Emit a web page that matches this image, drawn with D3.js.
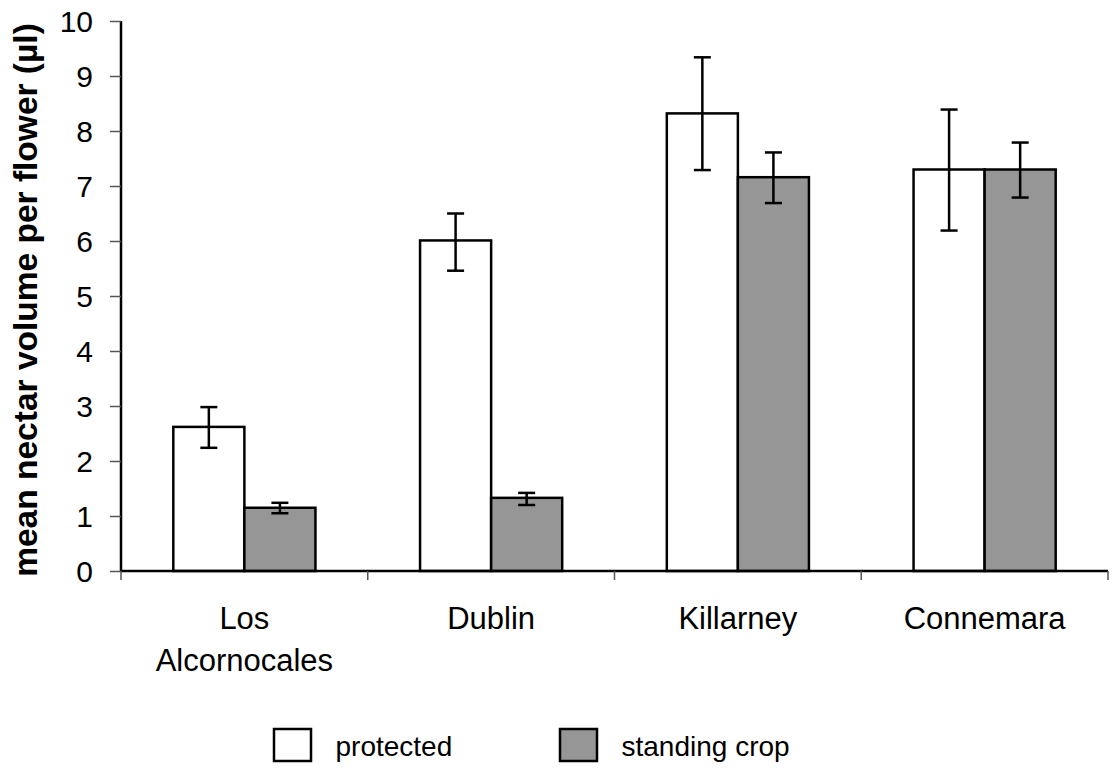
<!DOCTYPE html>
<html><head><meta charset="utf-8">
<script src="https://cdn.jsdelivr.net/npm/d3@7/dist/d3.min.js"></script>
<style>body{margin:0;background:#fff}svg{display:block}text{font-family:"Liberation Sans",Arial,sans-serif}</style>
</head><body>
<svg id="c" width="1112" height="771"></svg>
<script>
const categories = ["Los\nAlcornocales", "Dublin", "Killarney", "Connemara"];
const series = ["protected", "standing crop"];
const protectedMean = [2.62, 6.01, 8.32, 7.30];
const protectedLow  = [2.24, 5.46, 7.29, 6.19];
const protectedHigh = [2.98, 6.50, 9.34, 8.39];
const standingMean = [1.15, 1.33, 7.16, 7.30];
const standingLow  = [1.05, 1.20, 6.69, 6.79];
const standingHigh = [1.24, 1.42, 7.61, 7.79];
const yTicks = [0,1,2,3,4,5,6,7,8,9,10];
const colors = ["#ffffff", "#969696"];

const svg = d3.select("#c");
const x = d3.scaleBand().domain(categories).range([121, 1108]).padding(0);
const y = d3.scaleLinear().domain([0, 10]).range([571, 21]);
const bw = x.bandwidth() * 0.288;
const data = [
  {mean: protectedMean, low: protectedLow, high: protectedHigh},
  {mean: standingMean, low: standingLow, high: standingHigh}
];

// bars
data.forEach((s, si) => {
  categories.forEach((c, i) => {
    const cx = x(c) + x.bandwidth()/2;
    const x0 = si === 0 ? cx - bw : cx;
    svg.append("rect").attr("x", x0).attr("y", y(s.mean[i]))
      .attr("width", bw).attr("height", y(0) - y(s.mean[i]))
      .attr("fill", colors[si]).attr("stroke", "#000").attr("stroke-width", 2.5);
  });
});
// error bars
data.forEach((s, si) => {
  categories.forEach((c, i) => {
    const cx = x(c) + x.bandwidth()/2;
    const ex = si === 0 ? cx - bw/2 : cx + bw/2;
    const g = svg.append("g").attr("stroke", "#000").attr("stroke-width", 2.5);
    g.append("line").attr("x1", ex).attr("x2", ex).attr("y1", y(s.low[i])).attr("y2", y(s.high[i]));
    [s.low[i], s.high[i]].forEach(v => {
      g.append("line").attr("x1", ex - 8.5).attr("x2", ex + 8.5).attr("y1", y(v)).attr("y2", y(v));
    });
  });
});

// y axis
const ya = svg.append("g").attr("transform", "translate(121,0)")
  .call(d3.axisLeft(y).tickValues(yTicks).tickSize(11).tickPadding(17).tickFormat(d3.format("d")));
ya.select(".domain").attr("stroke", "#000").attr("stroke-width", 2.5).attr("d", "M0,21V571");
ya.selectAll(".tick line").attr("stroke", "#555").attr("stroke-width", 1.5);
ya.selectAll(".tick text").attr("font-size", 30).attr("fill", "#000").attr("dy", "0.36em")
  .attr("font-family", '"Liberation Sans",Arial,sans-serif');

// x axis
const xa = svg.append("g").attr("transform", "translate(0,571)");
xa.append("line").attr("x1", 121).attr("x2", 1108).attr("y1", 0).attr("y2", 0)
  .attr("stroke", "#000").attr("stroke-width", 2.5);
const edges = categories.map(c => x(c)).concat([x(categories[categories.length-1]) + x.bandwidth()]);
edges.forEach(e => {
  xa.append("line").attr("x1", e).attr("x2", e).attr("y1", 0).attr("y2", 9)
    .attr("stroke", "#555").attr("stroke-width", 1.5);
});
categories.forEach(c => {
  const t = xa.append("text").attr("x", x(c) + x.bandwidth()/2).attr("y", 58)
    .attr("text-anchor", "middle").attr("font-size", 31).attr("fill", "#000");
  c.split("\n").forEach((line, k) => {
    t.append("tspan").attr("x", x(c) + x.bandwidth()/2).attr("dy", k === 0 ? 0 : 42).text(line);
  });
});

// y title
svg.append("text").attr("transform", "translate(37,300) rotate(-90)")
  .attr("text-anchor", "middle").attr("font-size", 33.5).attr("font-weight", "bold")
  .attr("fill", "#000").text("mean nectar volume per flower (µl)");

// legend
const legX = [274, 560];
series.forEach((s, i) => {
  svg.append("rect").attr("x", legX[i]).attr("y", 729).attr("width", 37).attr("height", 32)
    .attr("fill", colors[i]).attr("stroke", "#000").attr("stroke-width", 2.5);
  svg.append("text").attr("x", legX[i] + 61.5).attr("y", 756).attr("font-size", 28)
    .attr("fill", "#000").text(s);
});
</script>
</body></html>
